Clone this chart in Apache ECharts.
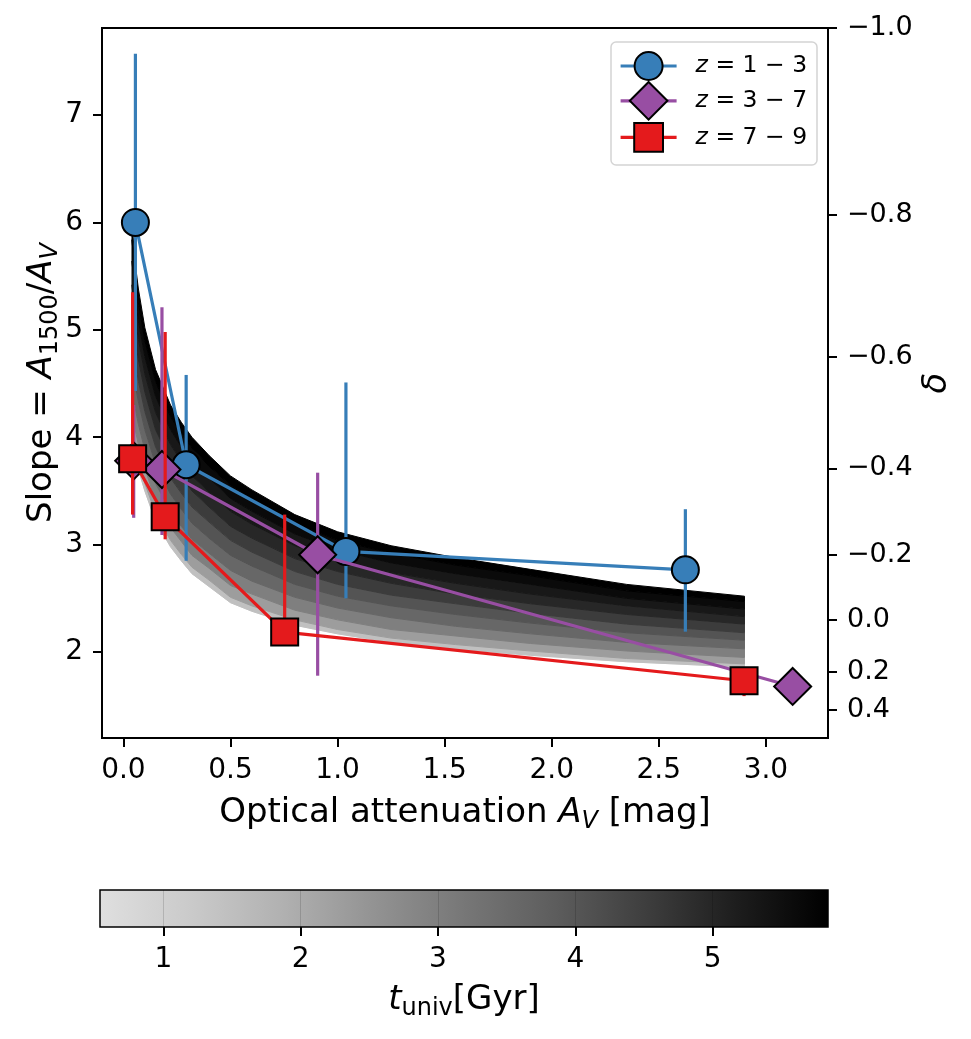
<!DOCTYPE html>
<html>
<head>
<meta charset="utf-8">
<title>Slope vs optical attenuation</title>
<script src="https://cdn.jsdelivr.net/npm/echarts@6/dist/echarts.min.js"></script>
<style>
  html, body { margin: 0; padding: 0; background: #fff; }
  #chart { width: 971px; height: 1039px; }
</style>
</head>
<body>
<div id="chart"></div>
<script>
// measured groups (Av, slope, error bar low / high)
const blueAv = [0.056, 0.293, 1.039, 2.624]
const blueSlope = [6.0, 3.744, 2.937, 2.766]
const blueLo = [4.43, 2.85, 2.50, 2.19]
const blueHi = [7.57, 4.58, 4.51, 3.33]

const purpleAv = [0.048, 0.18, 0.907, 3.125]
const purpleSlope = [3.78, 3.70, 2.906, 1.68]
const purpleLo = [3.25, 3.09, 1.78, 1.68]
const purpleHi = [4.30, 5.21, 3.67, 1.68]

const redAv = [0.043, 0.195, 0.753, 2.898]
const redSlope = [3.80, 3.26, 2.186, 1.733]
const redLo = [3.28, 3.05, 2.10, 1.59]
const redHi = [5.35, 4.98, 3.28, 1.85]

// model curves, one per age of the universe (Gyr)
const curveAv = [0.04, 0.055, 0.07, 0.1, 0.15, 0.22, 0.27, 0.32, 0.4, 0.5, 0.6, 0.8, 1.0, 1.25, 1.55, 1.9, 2.35, 2.9]
const curveAges = [0.54, 1.5, 2.3, 3.0, 3.6, 4.1, 4.55, 4.95, 5.3, 5.6, 5.84]
const curveSlopes = [
  [3.95, 3.82, 3.70, 3.50, 3.22, 2.98, 2.85, 2.73, 2.61, 2.46, 2.38, 2.25, 2.17, 2.09, 2.03, 1.97, 1.91, 1.86],
  [4.04, 3.90, 3.78, 3.57, 3.29, 3.04, 2.91, 2.79, 2.67, 2.51, 2.43, 2.30, 2.21, 2.13, 2.07, 2.01, 1.94, 1.89],
  [4.23, 4.07, 3.93, 3.71, 3.41, 3.16, 3.03, 2.90, 2.78, 2.62, 2.54, 2.39, 2.30, 2.21, 2.15, 2.08, 2.01, 1.95],
  [4.47, 4.27, 4.12, 3.88, 3.57, 3.31, 3.17, 3.05, 2.92, 2.76, 2.66, 2.51, 2.41, 2.32, 2.24, 2.17, 2.09, 2.03],
  [4.71, 4.49, 4.33, 4.07, 3.75, 3.47, 3.33, 3.20, 3.06, 2.90, 2.80, 2.63, 2.52, 2.43, 2.35, 2.27, 2.18, 2.11],
  [4.95, 4.70, 4.52, 4.24, 3.91, 3.62, 3.48, 3.35, 3.21, 3.04, 2.93, 2.75, 2.63, 2.53, 2.45, 2.36, 2.26, 2.18],
  [5.19, 4.91, 4.72, 4.42, 4.07, 3.78, 3.63, 3.50, 3.35, 3.17, 3.06, 2.87, 2.75, 2.64, 2.54, 2.45, 2.35, 2.26],
  [5.42, 5.11, 4.91, 4.59, 4.23, 3.93, 3.78, 3.64, 3.49, 3.31, 3.19, 2.99, 2.85, 2.74, 2.64, 2.54, 2.43, 2.33],
  [5.64, 5.30, 5.08, 4.75, 4.38, 4.07, 3.91, 3.78, 3.62, 3.43, 3.31, 3.10, 2.95, 2.83, 2.73, 2.63, 2.50, 2.40],
  [5.84, 5.48, 5.25, 4.90, 4.52, 4.19, 4.04, 3.90, 3.73, 3.55, 3.42, 3.20, 3.04, 2.92, 2.81, 2.71, 2.57, 2.47],
  [6.00, 5.62, 5.38, 5.02, 4.63, 4.30, 4.14, 4.00, 3.83, 3.64, 3.51, 3.28, 3.12, 2.99, 2.88, 2.77, 2.63, 2.52]
]

// axes
const xTicks = [0, 0.5, 1, 1.5, 2, 2.5, 3]
const yTicks = [2, 3, 4, 5, 6, 7]
const deltaLabels = ['−1.0', '−0.8', '−0.6', '−0.4', '−0.2', '0.0', '0.2', '0.4']
const deltaAtSlope = [7.808, 6.07, 4.75, 3.71, 2.906, 2.30, 1.817, 1.463]
const ageTicks = [1, 2, 3, 4, 5]
const ageRange = [0.539, 5.84]
const ageSteps = 50

const FONT = 'DejaVu Sans'
const BLUE = '#377eb8'
const PURPLE = '#984ea3'
const RED = '#e41a1c'
const LW = 3.2

// matplotlib "Greys", used from 0.22 to 1
const greysStops = [[0, 255], [0.125, 240], [0.25, 217], [0.375, 189], [0.5, 150], [0.625, 115], [0.75, 82], [0.875, 37], [1, 0]]
function greyAt(f) {
  for (let i = 1; i < greysStops.length; i++) {
    const a = greysStops[i - 1], b = greysStops[i]
    if (f <= b[0]) {
      const v = Math.round(a[1] + (b[1] - a[1]) * (f - a[0]) / (b[0] - a[0]))
      return 'rgb(' + v + ',' + v + ',' + v + ')'
    }
  }
  return 'rgb(0,0,0)'
}
function ageColor(t) {
  return greyAt(0.22 + 0.78 * (t - ageRange[0]) / (ageRange[1] - ageRange[0]))
}

const chart = echarts.init(document.getElementById('chart'))

const nameRich = {
  t: { fontFamily: FONT, fontSize: 34, lineHeight: 42 },
  i: { fontFamily: FONT, fontSize: 34, lineHeight: 42, fontStyle: 'italic' },
  s: { fontFamily: FONT, fontSize: 24, lineHeight: 18, verticalAlign: 'bottom' },
  si: { fontFamily: FONT, fontSize: 24, lineHeight: 18, verticalAlign: 'bottom', fontStyle: 'italic' }
}

// model curves: band between curve k-1 and k takes the colour of curve k
const curveSeries = {
  type: 'custom',
  xAxisIndex: 0,
  yAxisIndex: 0,
  data: curveAges.map((t, k) => [curveAv[0], curveSlopes[k][0], k]),
  encode: { x: 0, y: 1 },
  renderItem: (params, api) => {
    const k = params.dataIndex
    const c = ageColor(curveAges[k])
    const upper = curveAv.map((x, i) => api.coord([x, curveSlopes[k][i]]))
    if (k === 0) {
      return { type: 'polyline', shape: { points: upper }, style: { stroke: c, lineWidth: 1, fill: null } }
    }
    const lower = curveAv.map((x, i) => api.coord([x, curveSlopes[k - 1][i]])).reverse()
    return {
      type: 'polygon',
      shape: { points: upper.concat(lower) },
      style: { fill: c, stroke: c, lineWidth: 1 }
    }
  },
  clip: true,
  silent: true,
  z: 1
}

function errSeries(xs, lo, hi, color, z) {
  return {
    type: 'custom',
    xAxisIndex: 0,
    yAxisIndex: 0,
    data: xs.map((x, i) => [x, lo[i], hi[i]]),
    encode: { x: 0, y: [1, 2] },
    renderItem: (params, api) => {
      const a = api.coord([api.value(0), api.value(1)])
      const b = api.coord([api.value(0), api.value(2)])
      return {
        type: 'line',
        shape: { x1: a[0], y1: a[1], x2: b[0], y2: b[1] },
        style: { stroke: color, lineWidth: LW }
      }
    },
    silent: true,
    z: z
  }
}

function groupSeries(name, xs, ys, color, symbol, size, z) {
  return {
    name: name,
    type: 'line',
    xAxisIndex: 0,
    yAxisIndex: 0,
    data: xs.map((x, i) => [x, ys[i]]),
    symbol: symbol,
    symbolSize: size,
    showSymbol: true,
    lineStyle: { color: color, width: LW },
    itemStyle: { color: color, borderColor: '#000', borderWidth: 2, opacity: 1 },
    emphasis: { disabled: true },
    z: z
  }
}

function legendFor(name, top, h) {
  return {
    data: [name],
    left: 619,
    top: top,
    padding: 0,
    itemWidth: 56,
    itemHeight: h,
    selectedMode: false,
    z: 10,
    itemStyle: { borderColor: '#000', borderWidth: 2 },
    lineStyle: { width: LW },
    formatter: n => n.replace('z', '{i|z}'),
    textStyle: {
      fontFamily: FONT,
      fontSize: 23.5,
      color: '#000',
      padding: [0, 0, 0, 14],
      rich: { i: { fontFamily: FONT, fontSize: 23.5, fontStyle: 'italic' } }
    }
  }
}

const tickStyle = { color: '#000', width: 2 }

const option = {
  backgroundColor: '#fff',
  animation: false,
  grid: [
    { left: 102, top: 28, width: 726, height: 710, show: true, borderColor: '#000', borderWidth: 2, z: 8 },
    { left: 100, top: 890, width: 728, height: 37, show: true, borderColor: '#000', borderWidth: 1.5, z: 8 }
  ],
  graphic: [{
    type: 'rect',
    shape: { x: 611, y: 42, width: 206, height: 123, r: 5 },
    style: { fill: 'rgba(255,255,255,0.8)', stroke: '#d4d4d4', lineWidth: 1.5 },
    z: 9
  }],
  legend: [
    legendFor('z = 1 − 3', 51, 35),
    legendFor('z = 3 − 7', 81, 47),
    legendFor('z = 7 − 9', 122, 36)
  ],
  xAxis: [
    {
      type: 'value', gridIndex: 0, min: -0.1, max: 3.29,
      axisLine: { show: false, onZero: false },
      axisTick: { show: true, customValues: xTicks, length: 9, lineStyle: tickStyle },
      axisLabel: {
        customValues: xTicks, margin: 19, color: '#000', fontFamily: FONT, fontSize: 28,
        formatter: v => v.toFixed(1)
      },
      splitLine: { show: false },
      name: '{t|Optical attenuation }{i|A}{si|V}{t| [mag]}',
      nameLocation: 'middle',
      nameGap: 54,
      nameTextStyle: { color: '#000', rich: nameRich }
    },
    {
      type: 'value', gridIndex: 1, min: ageRange[0], max: ageRange[1],
      interval: (ageRange[1] - ageRange[0]) / ageSteps,
      z: 5,
      axisLine: { show: false, onZero: false },
      axisTick: { show: true, customValues: ageTicks, length: 9, lineStyle: tickStyle },
      axisLabel: {
        customValues: ageTicks, margin: 19, color: '#000', fontFamily: FONT, fontSize: 28,
        formatter: v => String(v)
      },
      splitLine: { show: true, lineStyle: { color: 'rgba(0,0,0,0.14)', width: 1 } },
      name: '{i|t}{s|univ}{t|[Gyr]}',
      nameLocation: 'middle',
      nameGap: 52,
      nameTextStyle: { color: '#000', rich: nameRich }
    }
  ],
  yAxis: [
    {
      type: 'value', gridIndex: 0, min: 1.2, max: 7.81,
      axisLine: { show: false, onZero: false },
      axisTick: { show: true, customValues: yTicks, length: 9, lineStyle: tickStyle },
      axisLabel: {
        customValues: yTicks, margin: 19, color: '#000', fontFamily: FONT, fontSize: 28,
        formatter: v => String(v)
      },
      splitLine: { show: false },
      name: '{t|Slope = }{i|A}{s|1500}{t|/}{i|A}{si|V}',
      nameLocation: 'middle',
      nameGap: 39,
      nameMoveOverlap: false,
      nameTextStyle: { color: '#000', rich: nameRich }
    },
    {
      type: 'value', gridIndex: 0, position: 'right', min: 1.2, max: 7.81,
      axisLine: { show: false, onZero: false },
      axisTick: { show: true, customValues: deltaAtSlope, length: 9, lineStyle: tickStyle },
      axisLabel: {
        customValues: deltaAtSlope, margin: 19, color: '#000', fontFamily: FONT, fontSize: 27,
        formatter: v => {
          let best = 0
          deltaAtSlope.forEach((s, i) => { if (Math.abs(s - v) < Math.abs(deltaAtSlope[best] - v)) best = i })
          return deltaLabels[best]
        }
      },
      splitLine: { show: false },
      name: '{i|δ}',
      nameLocation: 'middle',
      nameRotate: 90,
      nameGap: 88,
      nameMoveOverlap: false,
      nameTextStyle: { color: '#000', rich: nameRich }
    },
    {
      type: 'value', gridIndex: 1, min: 0, max: 1, show: false
    }
  ],
  series: [
    curveSeries,
    errSeries(blueAv, blueLo, blueHi, BLUE, 3),
    groupSeries('z = 1 − 3', blueAv, blueSlope, BLUE, 'circle', 27, 4),
    errSeries(purpleAv, purpleLo, purpleHi, PURPLE, 5),
    groupSeries('z = 3 − 7', purpleAv, purpleSlope, PURPLE, 'diamond', 37, 6),
    errSeries(redAv, redLo, redHi, RED, 7),
    groupSeries('z = 7 − 9', redAv, redSlope, RED, 'rect', 27, 8),
    {
      // colour bar
      type: 'custom',
      xAxisIndex: 1,
      yAxisIndex: 2,
      data: [[ageRange[0], ageRange[1]]],
      encode: { x: [0, 1] },
      renderItem: (params, api) => {
        const a = api.coord([api.value(0), 1])
        const b = api.coord([api.value(1), 0])
        const stops = []
        for (let i = 0; i <= 8; i++) stops.push({ offset: i / 8, color: greyAt(0.22 + 0.78 * i / 8) })
        return {
          type: 'rect',
          shape: { x: a[0], y: a[1], width: b[0] - a[0], height: b[1] - a[1] },
          style: { fill: new echarts.graphic.LinearGradient(0, 0, 1, 0, stops) }
        }
      },
      silent: true,
      z: 2
    }
  ]
}

chart.setOption(option)
</script>
</body>
</html>
